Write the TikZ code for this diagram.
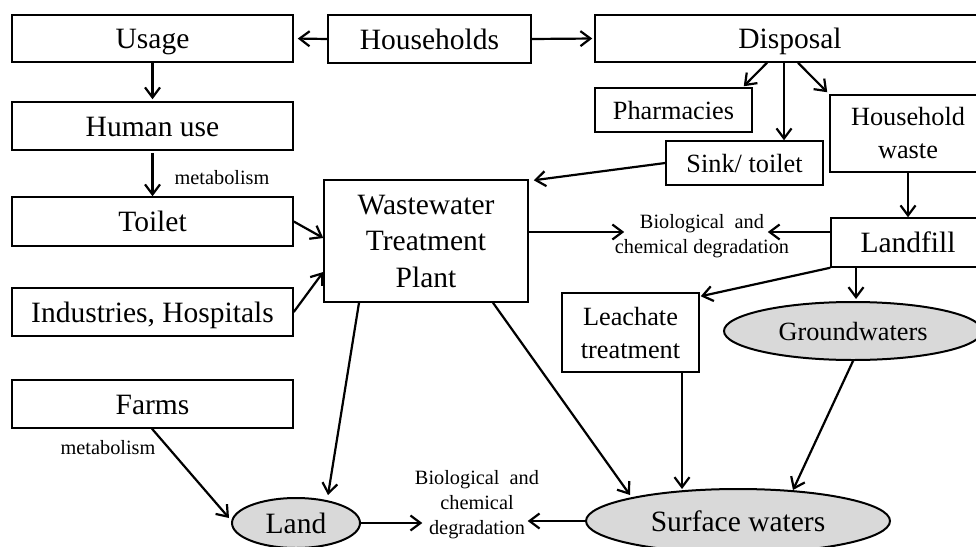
\documentclass[tikz,border=0pt]{standalone}
\usepackage{fontspec}
\setmainfont{Liberation Serif}
\usetikzlibrary{shapes.geometric,arrows.meta,calc}
\definecolor{ovalgray}{HTML}{D9D9D9}
\begin{document}
\begin{tikzpicture}[x=1pt,y=-1pt,
 box/.style={draw,line width=1.5pt,inner sep=0pt,font=\fontsize{29.5}{36.5}\selectfont,align=center},
 sbox/.style={box,font=\fontsize{26.3}{33}\selectfont},
 one/.style={text height=20.3pt,text depth=0pt},
 sone/.style={text height=18.1pt,text depth=0pt},
 oval/.style={ellipse,draw,line width=2pt,fill=ovalgray,inner sep=0pt},
 arr/.style={line width=2.2pt,-{Straight Barb[length=10pt,width=15pt]}},
 small/.style={font=\fontsize{20.3}{25}\selectfont,align=center,inner sep=0pt}]
\useasboundingbox (0,0) rectangle (976,546);
\clip (0,0) rectangle (976,546);
% boxes
\node[box,one,minimum width=281pt,minimum height=47pt] (usage) at (152.5,38.5) {Usage};
\node[box,one,minimum width=203pt,minimum height=48pt] (households) at (429.5,39) {Households};
\node[box,one,minimum width=390pt,minimum height=47pt] (disposal) at (790,38.5) {Disposal};
\node[sbox,sone,minimum width=157pt,minimum height=44pt] (pharm) at (673.5,110) {Pharmacies};
\node[sbox,sone,minimum width=157pt,minimum height=44pt] (sink) at (744.5,163) {Sink/ toilet};
\node[sbox,minimum width=156pt,minimum height=77pt] (hwaste) at (908,133.5) {Household\\waste};
\node[box,one,minimum width=281pt,minimum height=48pt] (human) at (152.5,126) {Human use};
\node[box,one,minimum width=281pt,minimum height=49pt] (toilet) at (152.5,221.5) {Toilet};
\node[box,one,minimum width=281pt,minimum height=48pt] (ind) at (152.5,312) {Industries, Hospitals};
\node[box,minimum width=204pt,minimum height=122pt] (wwtp) at (426,241) {Wastewater\\Treatment\\Plant};
\node[box,one,minimum width=154pt,minimum height=49pt] (landfill) at (908,242.5) {Landfill};
\node[sbox,minimum width=137pt,minimum height=79pt] (leach) at (630.5,332.5) {Leachate\\treatment};
\node[box,one,minimum width=281pt,minimum height=48pt] (farms) at (152.5,404) {Farms};
% ovals
\node[oval,one,minimum width=128pt,minimum height=50pt,font=\fontsize{29.5}{36}\selectfont] (land) at (296,523) {Land};
\node[oval,sone,minimum width=258pt,minimum height=58pt,font=\fontsize{26.3}{33}\selectfont] (ground) at (853,331) {Groundwaters};
\node[oval,one,minimum width=304pt,minimum height=64pt,font=\fontsize{29.5}{36}\selectfont] (surface) at (738,521) {Surface waters};
% small texts
\node[small] (bio1) at (702,236.5) {Biological\ \ and\\chemical\ degradation};
\node[small] (bio2) at (477,505) {Biological\ \ and\\chemical\\degradation};
\node[small] (met1) at (222,178) {metabolism};
\node[small] (met2) at (108,448) {metabolism};
% connectors
\draw[arr,shorten >=4pt] (households.west) -- (usage.east);
\draw[arr,shorten >=2pt] (households.east) -- (disposal.west);
\draw[arr,shorten >=2pt] (usage.south) -- (human.north);
\draw[arr,shorten <=2pt] (human.south) -- (toilet.north);
\draw[arr] (toilet.east) -- ([yshift=3pt]wwtp.west);
\draw[arr] (ind.east) -- ([yshift=-31pt]wwtp.west);
\draw[arr] ([xshift=-23pt]disposal.south) -- ([shift={(-9pt,1pt)}]pharm.north east);
\draw[arr] ([xshift=-6pt]disposal.south) -- ([xshift=39.5pt]sink.north);
\draw[arr] ([xshift=8pt]disposal.south) -- ([shift={(-2pt,2pt)}]hwaste.north west);
\draw[arr] (sink.west) -- ([shift={(5pt,-1pt)}]wwtp.north east);
\draw[arr] (hwaste.south) -- (landfill.north);
\draw[arr] ([yshift=9pt]wwtp.east) -- ([shift={(9.5pt,4.5pt)}]bio1.west);
\draw[arr] ([yshift=10.5pt]landfill.west) -- ([shift={(-21.5pt,4.5pt)}]bio1.east);
\draw[arr] (landfill.south west) -- ([shift={(1pt,-4pt)}]leach.north east);
\draw[arr] ([xshift=-52pt]landfill.south) -- ([xshift=3pt,yshift=2pt]ground.north);
\draw[arr] ([xshift=51.5pt]leach.south) -- ([shift={(-56pt,-1pt)}]surface.north);
\draw[arr] ([xshift=67pt]wwtp.south) -- ([shift={(-108pt,-7pt)}]surface.north);
\draw[arr] (ground.south) -- ([shift={(55pt,-2pt)}]surface.north);
\draw[arr] (surface.west) -- ([shift={(-11.5pt,-16pt)}]bio2.east);
\draw[arr] (land.east) -- ([shift={(7.5pt,-18pt)}]bio2.west);
\draw[arr] ([xshift=-67pt]wwtp.south) -- ([shift={(32pt,2pt)}]land.north);
\draw[arr] ([xshift=-0.5pt]farms.south) -- ([shift={(-2pt,5pt)}]land.west);
\end{tikzpicture}
\end{document}
